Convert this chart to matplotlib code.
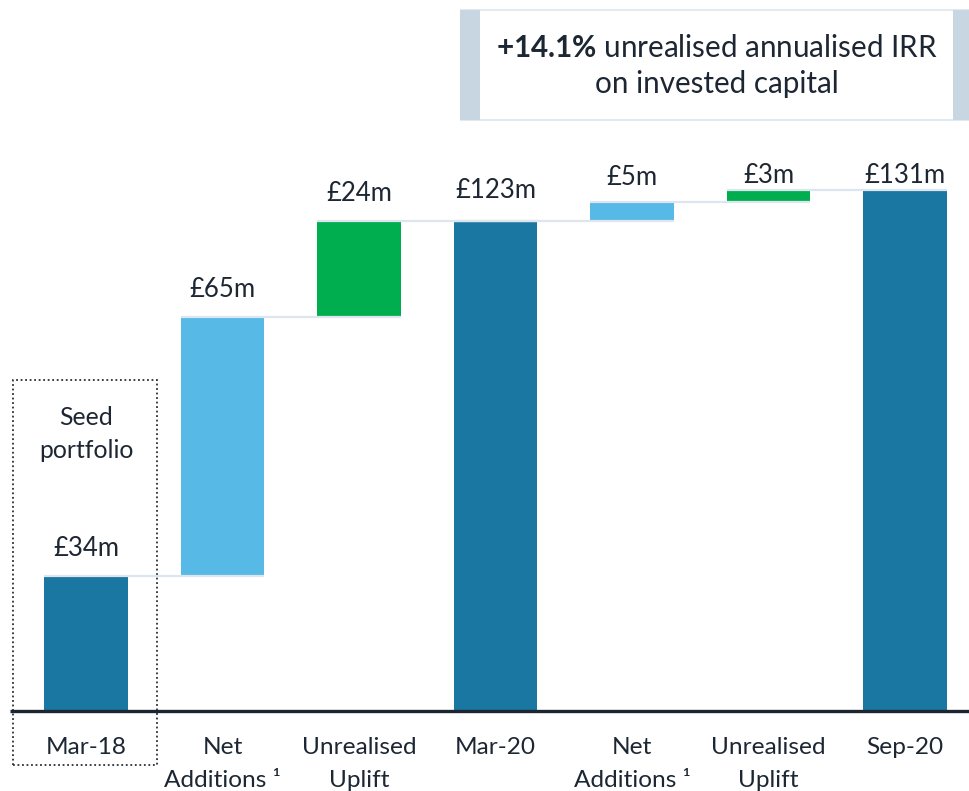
import numpy as np
import matplotlib.pyplot as plt
from matplotlib.patches import Rectangle

plt.rcParams['font.family'] = ['Lato', 'DejaVu Sans']
plt.rcParams['mathtext.fontset'] = 'custom'
plt.rcParams['mathtext.rm'] = 'Lato'
plt.rcParams['mathtext.bf'] = 'Lato:bold'
plt.rcParams['mathtext.default'] = 'regular'

# data
categories = ['Mar-18', 'Net\nAdditions ¹', 'Unrealised\nUplift', 'Mar-20',
              'Net\nAdditions ¹', 'Unrealised\nUplift', 'Sep-20']
values = [34, 65, 24, 123, 5, 3, 131]
kinds = ['total', 'add', 'uplift', 'total', 'add', 'uplift', 'total']
value_labels = ['£34m', '£65m', '£24m', '£123m', '£5m', '£3m', '£131m']
irr_text = r'$\mathbf{+14.1\%}$ unrealised annualised IRR' + '\non invested capital'
seed_text = 'Seed\nportfolio'

colors = {'total': '#1a77a2', 'add': '#56b9e6', 'uplift': '#00ae4f'}
text_col = '#1d2733'
label_gap = [27, 27, 28, 31, 24, 14, 14]  # pixels above bar top

W, H = 969, 791
fig = plt.figure(figsize=(W / 100, H / 100), dpi=100)
ax = fig.add_axes([0, 0, 1, 1])
step, x0, base, ppu = 136.5, 86, 711, 3.98
ax.set_xlim(-x0 / step, (W - x0) / step)
ax.set_ylim(-(H - base) / ppu, base / ppu)
ax.axis('off')

# waterfall bottoms / tops
bottoms, tops = [], []
running = 0
for v, k in zip(values, kinds):
    if k == 'total':
        bottoms.append(0)
        running = v
    else:
        bottoms.append(running)
        running += v
    tops.append(bottoms[-1] + v)

x = np.arange(len(values))
bw = 0.615
ax.bar(x, values, bottom=bottoms, width=bw,
       color=[colors[k] for k in kinds], zorder=2)

# connectors
for i in range(len(values) - 1):
    ax.hlines(tops[i], x[i] - bw / 2, x[i + 1] + bw / 2,
              color='#dde5ee', lw=1.6, zorder=3)

# value labels
for i in range(len(values)):
    ax.annotate(value_labels[i], (x[i], tops[i]), xytext=(0, label_gap[i]),
                textcoords='offset pixels', ha='center', va='center',
                fontsize=18.5, color=text_col, zorder=4)

# baseline
ax.hlines(0, -0.56, 6.6, color='#1c2630', lw=2.4, zorder=4)

# category labels
for i, c in enumerate(categories):
    ax.text(x[i], -26 / ppu, c, ha='center', va='top', fontsize=17.6,
            color=text_col, linespacing=1.68)

# seed portfolio dotted box
ax.add_patch(Rectangle((-0.535, -54 / ppu), 1.055, 385 / ppu,
                       fill=False, ls=(0, (1, 1.5)), lw=1.3, ec='#2a2f36',
                       zorder=1))
ax.text(x[0], (base - 434) / ppu, seed_text, ha='center', va='center',
        fontsize=17.8, color=text_col, linespacing=1.48)

# IRR box
def px_rect(x1, y1, x2, y2, **kw):
    fig.patches.append(Rectangle((x1 / W, 1 - y2 / H), (x2 - x1) / W, (y2 - y1) / H,
                                 transform=fig.transFigure, **kw))

px_rect(461, 10, 969, 120, fc='white', ec='#e3e9f0', lw=1.5)
px_rect(460, 10, 480, 120, fc='#c8d6e2', ec='none')
px_rect(953, 10, 969, 120, fc='#c8d6e2', ec='none')
fig.text(717 / W, 1 - 66 / H, irr_text, ha='center', va='center',
         fontsize=21.3, color=text_col, linespacing=1.35)

fig.savefig('out.png', dpi=100)
